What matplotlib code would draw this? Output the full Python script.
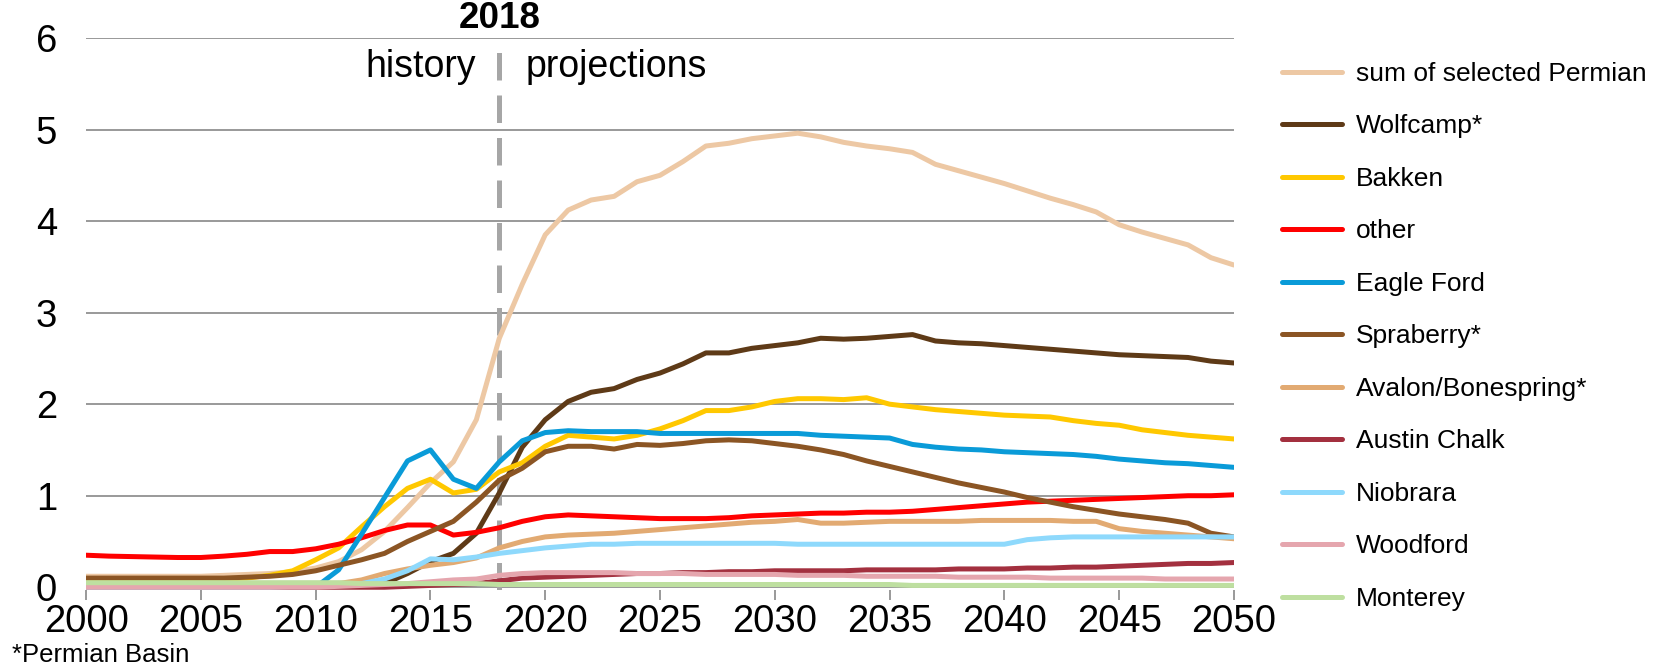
import matplotlib
matplotlib.use("Agg")
import matplotlib.pyplot as plt
import numpy as np

years = list(range(2000, 2051))

sum_permian = [0.12, 0.12, 0.12, 0.12, 0.12, 0.12, 0.13, 0.14, 0.15, 0.17,
               0.21, 0.28, 0.41, 0.61, 0.87, 1.14, 1.37, 1.83, 2.72, 3.31,
               3.85, 4.12, 4.23, 4.27, 4.43, 4.50, 4.65, 4.82, 4.85, 4.90,
               4.93, 4.96, 4.92, 4.86, 4.82, 4.79, 4.75, 4.62, 4.55, 4.48,
               4.41, 4.33, 4.25, 4.18, 4.10, 3.96, 3.88, 3.81, 3.74, 3.60, 3.52]
wolfcamp = [0.01, 0.01, 0.01, 0.01, 0.01, 0.01, 0.01, 0.01, 0.01, 0.01,
            0.01, 0.01, 0.02, 0.04, 0.15, 0.28, 0.37, 0.59, 1.03, 1.53,
            1.83, 2.03, 2.13, 2.17, 2.27, 2.34, 2.44, 2.56, 2.56, 2.61,
            2.64, 2.67, 2.72, 2.71, 2.72, 2.74, 2.76, 2.69, 2.67, 2.66,
            2.64, 2.62, 2.60, 2.58, 2.56, 2.54, 2.53, 2.52, 2.51, 2.47, 2.45]
bakken = [0.08, 0.08, 0.08, 0.08, 0.08, 0.08, 0.09, 0.10, 0.13, 0.18,
          0.30, 0.43, 0.66, 0.88, 1.08, 1.18, 1.03, 1.07, 1.26, 1.36,
          1.54, 1.66, 1.64, 1.62, 1.66, 1.73, 1.82, 1.93, 1.93, 1.97,
          2.03, 2.06, 2.06, 2.05, 2.07, 2.00, 1.97, 1.94, 1.92, 1.90,
          1.88, 1.87, 1.86, 1.82, 1.79, 1.77, 1.72, 1.69, 1.66, 1.64, 1.62]
other = [0.35, 0.34, 0.335, 0.33, 0.325, 0.325, 0.34, 0.36, 0.39, 0.39,
         0.42, 0.47, 0.54, 0.62, 0.68, 0.68, 0.57, 0.60, 0.65, 0.72,
         0.77, 0.79, 0.78, 0.77, 0.76, 0.75, 0.75, 0.75, 0.76, 0.78,
         0.79, 0.80, 0.81, 0.81, 0.82, 0.82, 0.83, 0.85, 0.87, 0.89,
         0.91, 0.93, 0.94, 0.95, 0.96, 0.97, 0.98, 0.99, 1.00, 1.00, 1.01]
eagle_ford = [0.0, 0.0, 0.0, 0.0, 0.0, 0.0, 0.0, 0.0, 0.0, 0.0,
              0.0, 0.19, 0.58, 0.98, 1.38, 1.50, 1.18, 1.08, 1.37, 1.60,
              1.69, 1.71, 1.70, 1.70, 1.70, 1.68, 1.68, 1.68, 1.68, 1.68,
              1.68, 1.68, 1.66, 1.65, 1.64, 1.63, 1.56, 1.53, 1.51, 1.50,
              1.48, 1.47, 1.46, 1.45, 1.43, 1.40, 1.38, 1.36, 1.35, 1.33, 1.31]
spraberry = [0.10, 0.10, 0.10, 0.10, 0.10, 0.10, 0.10, 0.11, 0.12, 0.14,
             0.18, 0.24, 0.30, 0.37, 0.50, 0.61, 0.72, 0.93, 1.17, 1.30,
             1.48, 1.54, 1.54, 1.51, 1.56, 1.55, 1.57, 1.60, 1.61, 1.60,
             1.57, 1.54, 1.50, 1.45, 1.38, 1.32, 1.26, 1.20, 1.14, 1.09,
             1.04, 0.98, 0.93, 0.88, 0.84, 0.80, 0.77, 0.74, 0.70, 0.59, 0.55]
avalon = [0.02, 0.02, 0.02, 0.02, 0.02, 0.02, 0.02, 0.02, 0.02, 0.03,
          0.03, 0.04, 0.08, 0.15, 0.20, 0.24, 0.27, 0.32, 0.43, 0.50,
          0.55, 0.57, 0.58, 0.59, 0.61, 0.63, 0.65, 0.67, 0.69, 0.71,
          0.72, 0.74, 0.70, 0.70, 0.71, 0.72, 0.72, 0.72, 0.72, 0.73,
          0.73, 0.73, 0.73, 0.72, 0.72, 0.64, 0.61, 0.59, 0.57, 0.55, 0.53]
austin_chalk = [0.0, 0.0, 0.0, 0.0, 0.0, 0.0, 0.0, 0.0, 0.0, 0.0,
                0.0, 0.0, 0.0, 0.0, 0.01, 0.02, 0.03, 0.04, 0.07, 0.10,
                0.11, 0.12, 0.13, 0.14, 0.15, 0.15, 0.16, 0.16, 0.17, 0.17,
                0.18, 0.18, 0.18, 0.18, 0.19, 0.19, 0.19, 0.19, 0.20, 0.20,
                0.20, 0.21, 0.21, 0.22, 0.22, 0.23, 0.24, 0.25, 0.26, 0.26, 0.27]
niobrara = [0.0, 0.0, 0.0, 0.0, 0.0, 0.0, 0.0, 0.0, 0.0, 0.01,
            0.02, 0.02, 0.04, 0.09, 0.18, 0.31, 0.30, 0.33, 0.37, 0.40,
            0.43, 0.45, 0.47, 0.47, 0.48, 0.48, 0.48, 0.48, 0.48, 0.48,
            0.48, 0.47, 0.47, 0.47, 0.47, 0.47, 0.47, 0.47, 0.47, 0.47,
            0.47, 0.52, 0.54, 0.55, 0.55, 0.55, 0.55, 0.55, 0.55, 0.55, 0.55]
woodford = [0.0, 0.0, 0.0, 0.0, 0.0, 0.0, 0.0, 0.0, 0.0, 0.0,
            0.0, 0.01, 0.02, 0.03, 0.04, 0.06, 0.08, 0.09, 0.13, 0.15,
            0.16, 0.16, 0.16, 0.16, 0.15, 0.15, 0.15, 0.14, 0.14, 0.14,
            0.14, 0.13, 0.13, 0.13, 0.12, 0.12, 0.12, 0.12, 0.11, 0.11,
            0.11, 0.11, 0.10, 0.10, 0.10, 0.10, 0.10, 0.09, 0.09, 0.09, 0.09]
monterey = [0.05, 0.05, 0.05, 0.05, 0.05, 0.05, 0.05, 0.05, 0.05, 0.05,
            0.05, 0.05, 0.04, 0.04, 0.04, 0.04, 0.04, 0.04, 0.03, 0.03,
            0.03, 0.03, 0.03, 0.03, 0.03, 0.03, 0.03, 0.03, 0.03, 0.03,
            0.03, 0.03, 0.03, 0.03, 0.03, 0.03, 0.02, 0.02, 0.02, 0.02,
            0.02, 0.02, 0.02, 0.02, 0.02, 0.02, 0.02, 0.02, 0.02, 0.02, 0.02]

series = [
    ("sum of selected Permian", sum_permian, "#EDC8A4"),
    ("Wolfcamp*", wolfcamp, "#5E3A17"),
    ("Bakken", bakken, "#FFC800"),
    ("other", other, "#FF0000"),
    ("Eagle Ford", eagle_ford, "#0A9BD8"),
    ("Spraberry*", spraberry, "#8B5524"),
    ("Avalon/Bonespring*", avalon, "#E2AA72"),
    ("Austin Chalk", austin_chalk, "#A3303F"),
    ("Niobrara", niobrara, "#8ED9FC"),
    ("Woodford", woodford, "#E5A6AE"),
    ("Monterey", monterey, "#BEDFA0"),
]

plt.rcParams['font.family'] = ['Liberation Sans', 'DejaVu Sans']

fig = plt.figure(figsize=(16.65, 6.70), dpi=100)
ax = fig.add_axes([0.0517, 0.1194, 0.6894, 0.8239])

for label, vals, color in series:
    ax.plot(years, vals, color=color, lw=3.6, label=label, solid_capstyle='round')

# history / projections divider
ax.axvline(2018, color='#A6A6A6', lw=3.6, dashes=(5.5, 3.0), zorder=1)

ax.set_xlim(2000, 2050)
ax.set_ylim(-0.03, 6)
ax.set_xticks(range(2000, 2051, 5))
ax.set_yticks(range(0, 7))
ax.yaxis.grid(True, color='#999999', lw=1.4)
ax.set_axisbelow(True)
for s in ax.spines.values():
    s.set_visible(False)
ax.tick_params(axis='y', length=0, labelsize=27.5, pad=21)
ax.tick_params(axis='x', length=7, width=1.4, color='#999999', direction='out',
               labelsize=27.5, pad=3)

ax.text(2018, 6.21, "2018", ha='center', va='center', fontsize=26.5,
        fontweight='bold', clip_on=False)
ax.text(2017.0, 5.68, "history", ha='right', va='center', fontsize=27)
ax.text(2019.15, 5.68, "projections", ha='left', va='center', fontsize=27)

fig.text(0.007, 0.022, "*Permian Basin", ha='left', va='center', fontsize=18.5)

ax.legend(loc='upper left', bbox_to_anchor=(0.756, 0.943), bbox_transform=fig.transFigure,
          frameon=False, fontsize=19, handlelength=2.27, handletextpad=0.5,
          labelspacing=1.08)

fig.savefig("out.png", dpi=100)
